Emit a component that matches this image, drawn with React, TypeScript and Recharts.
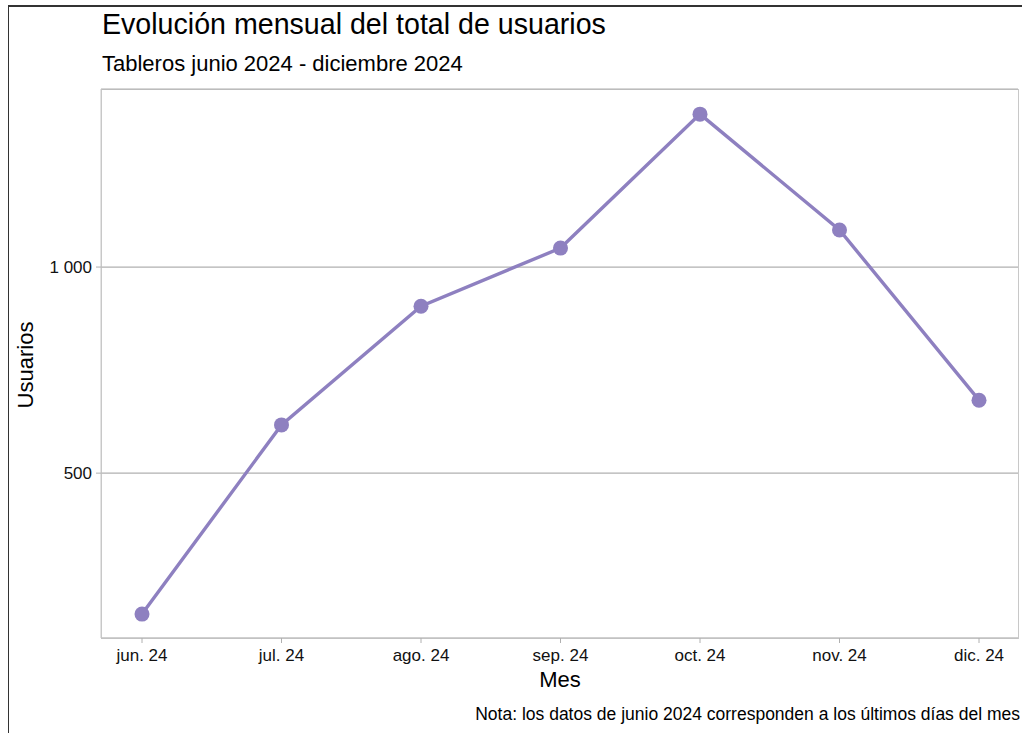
import React from 'react';
import { LineChart, Line, XAxis, YAxis, CartesianGrid } from 'recharts';

const MESES = ['jun. 24', 'jul. 24', 'ago. 24', 'sep. 24', 'oct. 24', 'nov. 24', 'dic. 24'];
const USUARIOS = [158, 617, 905, 1046, 1371, 1090, 677];
const Y_TICKS = [500, 1000];

const COLOR = '#8e80c0';
const FONT = '"Liberation Sans", Arial, sans-serif';

const data = MESES.map((mes, i) => ({ mes, usuarios: USUARIOS[i] }));

const fmt = (v: number) => v.toLocaleString('en-US').replace(/,/g, ' ');

export default function App() {
  return (
    <div style={{ position: 'absolute', left: 0, top: 0, width: 1022, height: 733, background: '#fff', fontFamily: FONT }}>
      {/* outer frame */}
      <div style={{ position: 'absolute', left: 8, top: 5, width: 1014, height: 728, borderTop: '2px solid #333', borderLeft: '1px solid #333' }} />
      {/* plot panel border */}
      <div style={{ position: 'absolute', left: 101, top: 89, width: 916, height: 548, border: '1px solid #c8c8c8' }} />
      <div style={{ position: 'absolute', left: 0, top: 0 }}>
        <LineChart width={1022} height={733} data={data} margin={{ top: 89, right: 4, bottom: 52, left: 0 }}>
          <CartesianGrid vertical={false} stroke="#b0b0b0" strokeWidth={1.2} />
          <XAxis
            dataKey="mes"
            height={43}
            padding={{ left: 41, right: 39 }}
            axisLine={{ stroke: '#c8c8c8' }}
            tickLine={{ stroke: '#b0b0b0' }}
            tickSize={5}
            tickMargin={6}
            tick={{ fill: '#111', fontSize: 17, fontFamily: FONT }}
          />
          <YAxis
            width={101}
            domain={[100, 1432]}
            ticks={Y_TICKS}
            tickFormatter={fmt}
            axisLine={{ stroke: '#c8c8c8' }}
            tickLine={{ stroke: '#b0b0b0' }}
            tickSize={5}
            tickMargin={4}
            tick={{ fill: '#111', fontSize: 17, fontFamily: FONT }}
          />
          <Line
            type="linear"
            dataKey="usuarios"
            stroke={COLOR}
            strokeWidth={3.4}
            dot={{ r: 7.5, fill: COLOR, stroke: COLOR, strokeWidth: 0 }}
            isAnimationActive={false}
          />
        </LineChart>
      </div>
      <svg width={1022} height={733} style={{ position: 'absolute', left: 0, top: 0, pointerEvents: 'none' }} fontFamily={FONT}>
        <text x={102} y={34} fontSize={28.6} fill="#000">Evolución mensual del total de usuarios</text>
        <text x={102} y={71} fontSize={22} fill="#000">Tableros junio 2024 - diciembre 2024</text>
        <text x={560} y={687} fontSize={22} fill="#000" textAnchor="middle">Mes</text>
        <text x={33} y={365} fontSize={22} fill="#000" textAnchor="middle" transform="rotate(-90 33 365)">Usuarios</text>
        <text x={1020} y={720} fontSize={17.5} fill="#000" textAnchor="end">Nota: los datos de junio 2024 corresponden a los últimos días del mes</text>
      </svg>
    </div>
  );
}
